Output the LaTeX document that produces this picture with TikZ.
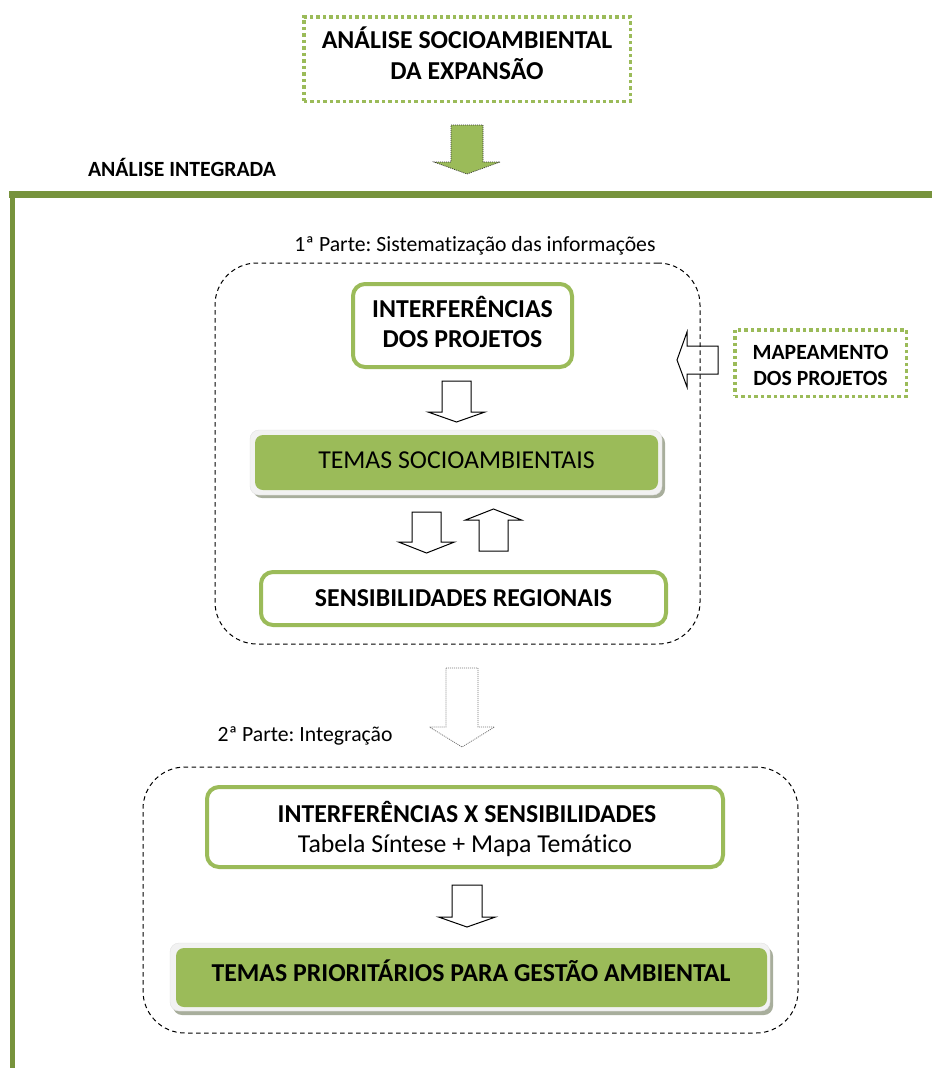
\documentclass[tikz,border=0pt]{standalone}
\usepackage{fontspec}
\setmainfont{Carlito}[Ligatures=NoCommon]
\frenchspacing
\definecolor{lgreen}{HTML}{9BBB59}
\definecolor{dgreen}{HTML}{77933C}
\definecolor{rimc}{HTML}{F2F2F2}
\definecolor{rimd}{HTML}{E2E2E2}
\definecolor{shadc}{HTML}{A8AE9C}
\tikzset{
  greenbox/.style={draw=lgreen, line width=4pt, rounded corners=12pt, fill=white, inner sep=0pt},
  dotbox/.style={draw=lgreen, line width=3.5pt, dash pattern=on 3.5pt off 3pt, inner sep=0pt},
  dashbox/.style={draw=black, line width=1pt, dash pattern=on 4.5pt off 3.5pt, rounded corners=42pt, inner sep=0pt},
  fillbox/.style={fill=lgreen, rounded corners=8pt, inner sep=0pt},
  hollow/.style={draw=black, line width=1pt, line join=miter},
  dotarrow/.style={draw=black!55, line width=0.8pt, dash pattern=on 1pt off 1pt},
  grarrow/.style={fill=lgreen, draw=black!80, line width=0.7pt, dash pattern=on 1pt off 1pt},
  bigb/.style={anchor=base, inner sep=0pt, font=\fontsize{25.8}{31}\selectfont\bfseries},
  bigr/.style={anchor=base, inner sep=0pt, font=\fontsize{25.8}{31}\selectfont},
  smallb/.style={anchor=base, inner sep=0pt, font=\fontsize{21.7}{26.5}\selectfont\bfseries},
  smallr/.style={anchor=base, inner sep=0pt, font=\fontsize{21.7}{26.5}\selectfont},
  pics/darrow/.style n args={4}{code={
    \draw[pic actions] (-#3,0) -- (#3,0) -- (#3,#1) -- (#4,#1) -- (0,#2) -- (-#4,#1) -- (-#3,#1) -- cycle;
  }}
}
\begin{document}
\begin{tikzpicture}[x=1pt,y=-1pt]
\useasboundingbox (0,0) rectangle (932,1068);

% top dotted box
\node[dotbox, minimum width=326.5pt, minimum height=84.5pt] (top) at (467,59) {};
\node[bigb] (toptxt1) at (467,48.5) {ANÁLISE SOCIOAMBIENTAL};
\node[bigb] (toptxt2) at (467,79) {DA EXPANSÃO};

% green arrow
\pic[grarrow] (garrow) at (467,125) {darrow={37}{49}{16}{33}};

% label
\node[smallb] (ailabel) at (182,176) {ANÁLISE INTEGRADA};

% frame
\coordinate (fa) at (9,194.5);
\coordinate (fb) at (932,194.5);
\coordinate (fc) at (12.5,191);
\coordinate (fd) at (12.5,1068);
\draw[dgreen, line width=7pt] (fa) -- (fb);
\draw[dgreen, line width=5pt] (fc) -- (fd);

% part 1
\node[smallr] (p1label) at (475,251) {1ª Parte: Sistematização das informações};
\node[dashbox, minimum width=485pt, minimum height=381pt] (part1) at (457.5,453.5) {};

\node[greenbox, minimum width=219pt, minimum height=83pt] (interf) at (462.5,325.5) {};
\node[bigb] (interf1) at (462.5,317) {INTERFERÊNCIAS};
\node[bigb] (interf2) at (462.5,347.5) {DOS PROJETOS};

\pic[hollow] (a1) at (456.5,381) {darrow={31}{41}{14.5}{28.5}};

% temas socioambientais (filled, with rim and shadow)
\fill[shadc, rounded corners=9pt] (253,434) rectangle (665,498);
\filldraw[fill=rimc, draw=rimd, rounded corners=9pt] (250,430) rectangle (662,495);
\node[fillbox, minimum width=403pt, minimum height=55pt] (temas) at (456.5,462.5) {};
\node[bigr] (temastxt) at (456.5,468) {TEMAS SOCIOAMBIENTAIS};

\pic[hollow] (a2) at (426.5,512) {darrow={30}{41}{14.5}{28}};
\pic[hollow] (a3) at (493.5,551) {darrow={-31}{-42}{14.5}{28}};

\node[greenbox, minimum width=405pt, minimum height=53pt] (sens) at (463.5,598.5) {};
\node[bigb] (senstxt) at (463.5,606) {SENSIBILIDADES REGIONAIS};

% mapeamento
\node[dotbox, minimum width=171.5pt, minimum height=66.5pt] (mapa) at (820.5,363) {};
\node[smallb] (mapa1) at (820.5,359) {MAPEAMENTO};
\node[smallb] (mapa2) at (820.5,385) {DOS PROJETOS};
\draw[hollow] (718,346) -- (687,346) -- (687,332) -- (677,360) -- (687,387) -- (687,374) -- (718,374) -- cycle;

% dotted arrow between parts
\pic[dotarrow] (a4) at (462,668) {darrow={59}{79}{16}{32.5}};

% part 2
\node[smallr] (p2label) at (305,741) {2ª Parte: Integração};
\node[dashbox, minimum width=655pt, minimum height=266pt] (part2) at (470.5,900) {};

\node[greenbox, minimum width=516pt, minimum height=80pt] (ixs) at (465,827) {};
\node[bigb] (ixs1) at (467,822) {INTERFERÊNCIAS X SENSIBILIDADES};
\node[bigr] (ixs2) at (465,852) {Tabela Síntese + Mapa Temático};

\pic[hollow] (a5) at (467,885) {darrow={32}{42}{15}{28.5}};

\fill[shadc, rounded corners=9pt] (173,947) rectangle (773,1015);
\filldraw[fill=rimc, draw=rimd, rounded corners=9pt] (170,943) rectangle (770,1011);
\node[fillbox, minimum width=591pt, minimum height=59pt] (prio) at (471.5,977.5) {};
\node[bigb] (priotxt) at (471,981.5) {TEMAS PRIORITÁRIOS PARA GESTÃO AMBIENTAL};
\end{tikzpicture}
\end{document}
